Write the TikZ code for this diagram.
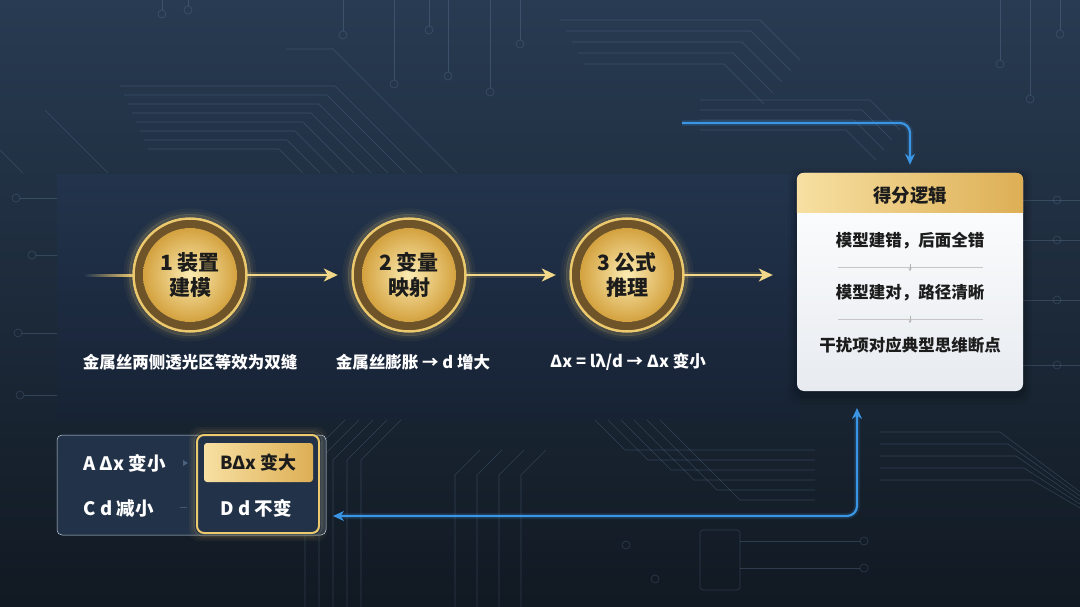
\documentclass[tikz,border=0pt]{standalone}
\usepackage{fontspec}
\setmainfont{Noto Sans CJK SC}
\usetikzlibrary{positioning,arrows.meta}

\definecolor{bgtop}{HTML}{283B52}
\definecolor{bgbot}{HTML}{111922}
\definecolor{bandtop}{HTML}{23354D}
\definecolor{bandbot}{HTML}{172336}
\definecolor{gold}{HTML}{EDC96E}
\definecolor{goldlt}{HTML}{FBEBB2}
\definecolor{golddk}{HTML}{D4A23F}
\definecolor{ringdk}{HTML}{6E5428}
\definecolor{arrowgold}{HTML}{F2D888}
\definecolor{flowblue}{HTML}{3A95E4}
\definecolor{trace}{HTML}{7391B3}
\definecolor{ink}{HTML}{1C1C1C}
\definecolor{optfill}{HTML}{223248}
\definecolor{cardbot}{HTML}{E7EBF0}
\definecolor{headl}{HTML}{F7E0A2}
\definecolor{headr}{HTML}{DDAF55}

\begin{document}
\begin{tikzpicture}[x=1pt,y=-1pt,>={Stealth[length=11pt,width=10pt]},
    stepdisk/.style={circle,minimum size=94pt,inner sep=0pt,align=center,
      inner color=goldlt,outer color=golddk,text=ink,
      font=\fontsize{21}{25}\selectfont\bfseries},
    steplabel/.style={text=white,font=\fontsize{16.5}{20}\selectfont\bfseries},
    goldarrow/.style={draw=arrowgold,line width=2pt,
      -{Stealth[length=14pt,width=13pt,inset=4pt]}},
    goldglow/.style={draw=gold,line width=6pt,opacity=0.15},
    flow/.style={draw=flowblue,line width=2.2pt,rounded corners=10pt},
    flowglow/.style={draw=flowblue,line width=6pt,opacity=0.15,rounded corners=10pt},
    card/.style={rectangle,rounded corners=7pt,minimum width=226pt,
      minimum height=218pt,inner sep=0pt,top color=white,bottom color=cardbot},
    cardrow/.style={text=ink,font=\fontsize{16.5}{20}\selectfont\bfseries},
    sepline/.style={draw=gray!45,line width=0.6pt},
    optpanel/.style={rectangle,rounded corners=5pt,fill=optfill,draw=trace!40,
      line width=0.5pt,minimum width=269pt,minimum height=100pt},
    goldframe/.style={rectangle,rounded corners=7pt,fill=optfill,draw=gold,
      line width=2pt,minimum width=122pt,minimum height=98pt},
    goldchip/.style={rectangle,rounded corners=3pt,minimum width=109pt,
      minimum height=39pt,left color=headl,right color=headr,text=ink,
      font=\fontsize{18}{20}\selectfont\bfseries},
    opttext/.style={text=white,font=\fontsize{18.5}{20}\selectfont\bfseries},
    trc/.style={draw=trace,opacity=0.28,line width=0.6pt}]

\useasboundingbox (0,0) rectangle (1080,607);
\shade[top color=bgtop,bottom color=bgbot] (0,0) rectangle (1080,607);

% circuit traces, top
\foreach \x/\y in {162/10,188/6,343/31,394/80,429/26,448/72,490/88,520/40,1000/60,1030/95,1060/30}
  {\draw[trc] (\x,0) -- (\x,\y); \draw[trc] (\x,\y+4) circle (4pt);}
\foreach \k in {0,...,7}
  \draw[trc] ({120+4*\k},{86+9*\k}) -- ({335-8*\k},{86+9*\k}) -- ({422-17*\k},173);
\draw[trc] (286,49) -- (333,49) -- (457,173);
\draw[trc] (45,110) -- (108,173);
\draw[trc] (0,150) -- (23,173);
\foreach \k in {0,...,4}
  \draw[trc] ({560+6*\k},{20+11*\k}) -- ({760-9*\k},{20+11*\k}) -- ({800-9*\k},{60+11*\k});
\foreach \k in {0,...,3}
  \draw[trc] (700,{100+10*\k}) -- ({870-8*\k},{100+10*\k}) -- ({900-8*\k},{130+10*\k});
% circuit traces, sides
\foreach \y/\x in {198/16,255/32,333/18,395/20}
  {\draw[trc] (\x+4,\y) -- (57,\y); \draw[trc] (\x,\y) circle (4pt);}
\foreach \y in {200,240,300,365}
  {\draw[trc] (1023,\y) -- (1080,\y); \draw[trc] (1057,\y) circle (4pt);}
% circuit traces, bottom
\foreach \k in {0,...,5}
  \draw[trc] ({595+13*\k},420) -- ({625+23*\k},{450+10*\k}) -- (815,{450+10*\k});
\foreach \k in {0,...,4}
  \draw[trc] (880,{432+12*\k}) -- ({1000+8*\k},{432+12*\k}) -- (1080,{492+4*\k});
\foreach \k in {0,...,4}
  \draw[trc] ({345+14*\k},420) -- ({305+14*\k},460) -- ({305+14*\k},607);
\foreach \k in {0,...,3}
  \draw[trc] ({480+22*\k},450) -- ({455+22*\k},475) -- ({455+22*\k},607);
\draw[trc,rounded corners=3pt] (700,530) rectangle (740,590);
\foreach \y in {541,568}
  {\draw[trc] (740,\y) -- (860,\y); \draw[trc] (864,\y) circle (4pt);}
\draw[trc] (626,545) circle (4pt);
\draw[trc] (655,579) circle (4pt);

% band behind the steps
\shade[top color=bandtop,bottom color=bandbot,opacity=0.93] (57,175) rectangle (800,417);

% steps
\foreach \i/\x/\t in {1/190/{1 装置\\建模},2/409/{2 变量\\映射},3/627/{3 公式\\推理}} {
  \foreach \r/\o in {65/0.05,62/0.1,59.5/0.22}
    \draw[gold,opacity=\o,line width=3pt] (\x,275) circle (\r pt);
  \draw[ringdk,line width=9pt] (\x,275) circle (51.5pt);
  \draw[gold,line width=2.5pt] (\x,275) circle (56.5pt);
  \node[stepdisk] (s\i) at (\x,275) {\t};
}
\shade[left color=bandtop,right color=gold] (85,274) rectangle (133,276.5);

\node[steplabel] (l1) at (190,362) {金属丝两侧透光区等效为双缝};
\node[steplabel] (l2) at (413,362) {金属丝膨胀 → d 增大};
\node[steplabel] (l3) at (628,362) {Δx = lλ/d → Δx 变小};

% scoring card
\foreach \s/\o in {9/0.05,6/0.07,3/0.1}
  \fill[black,opacity=\o,rounded corners=10pt] (797-\s,177-\s) rectangle (1023+\s,395+\s);
\node[card] (card) at (910,282) {};
\begin{scope}
  \clip[rounded corners=7pt] (card.north west) rectangle (card.south east);
  \shade[left color=headl,right color=headr] (card.north west) rectangle ([yshift=-40pt]card.north east);
\end{scope}
\node[text=ink,font=\fontsize{18.5}{20}\selectfont\bfseries] (head) at (910,196) {得分逻辑};
\node[cardrow] (r1) at (910,241) {模型建错，后面全错};
\node[cardrow] (r2) at (910,293) {模型建对，路径清晰};
\node[cardrow] (r3) at (910,345) {干扰项对应典型思维断点};
\foreach \a/\b in {r1/r2,r2/r3} {
  \path (\a) -- (\b) coordinate[midway] (m);
  \draw[sepline] ([xshift=-72pt]m) -- ([xshift=73pt]m);
  \draw[gray!60,line width=0.6pt,-{Stealth[length=3pt,width=3pt]}] ([yshift=3pt]m) -- ([yshift=-4pt]m);
}

% gold arrows
\foreach \a/\b in {s1/s2,s2/s3} {
  \draw[goldglow,shorten <=10pt,shorten >=30pt] (\a) -- (\b);
  \draw[goldarrow,shorten <=10pt,shorten >=24pt] (\a) -- (\b);
}
\draw[goldglow,shorten <=10pt,shorten >=30pt] (s3) -- (s3 -| card.west);
\draw[goldarrow,shorten <=10pt,shorten >=24pt] (s3) -- (s3 -| card.west);

% options
\node[optpanel] (opts) at (191.5,485) {};
\foreach \s/\o in {7/0.05,5/0.1,3/0.18}
  \draw[gold,opacity=\o,line width=2pt,rounded corners=9pt] (197-\s,435-\s) rectangle (319+\s,533+\s);
\node[goldframe] (optbox) at (258,484) {};
\node[goldchip] (optB) at (258.5,462.5) {BΔx 变大};
\node[opttext,anchor=west] (optA) at (80,463) {A Δx 变小};
\node[opttext,anchor=west] (optC) at (80,508) {C d 减小};
\node[opttext] (optD) at (256,508) {D d 不变};
\fill[trace,opacity=0.5] (183,460) -- (188,463) -- (183,466) -- cycle;
\draw[trace,opacity=0.4,line width=0.8pt] (180,507) -- (187,507);

% feedback arrows
\coordinate (fbtop) at (682,123);
\coordinate (fbleft) at (333,516);
\coordinate (fbup) at (857,408);
\draw[flowglow] (fbtop) -| ([yshift=14pt]card.north);
\draw[flow,->] (fbtop) -| ([yshift=8pt]card.north);
\draw[flowglow] ([xshift=6pt]fbleft) -| ([yshift=-6pt]fbup);
\draw[flow,<->] (fbleft) -| (fbup);
\end{tikzpicture}
\end{document}
